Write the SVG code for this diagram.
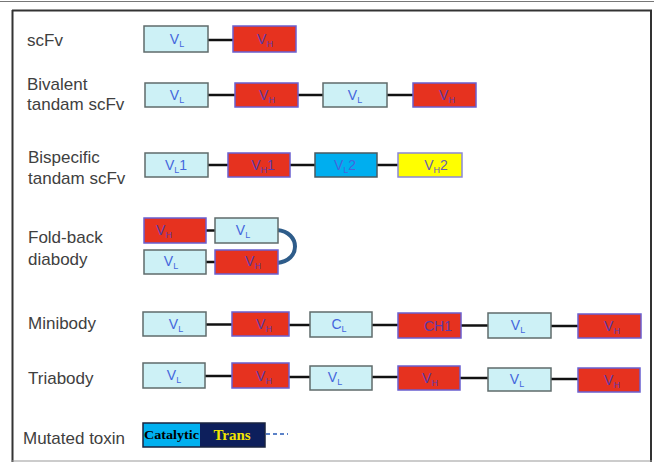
<svg xmlns="http://www.w3.org/2000/svg" width="654" height="462" viewBox="0 0 654 462">
<style>
.lt{fill:#cdf1f6;stroke:#5f6b6b;stroke-width:1.5}
.rd{fill:#e6321f;stroke:#6a5fd0;stroke-width:1.5}
.bl{fill:#00aeef;stroke:#4a5a60;stroke-width:1.5}
.yl{fill:#ffff00;stroke:#8a88d8;stroke-width:1.5}
.lbl{font-family:"Liberation Sans",Arial,sans-serif;font-size:17px;fill:#404040}
.bt{font-family:"Liberation Sans",Arial,sans-serif;font-size:14px;text-anchor:middle}
.tl{fill:#4466dd}
.th{fill:#5b3aa8}
.con line{stroke:#111;stroke-width:2.5}
.sub{font-size:9px}
</style>
<rect width="654" height="462" fill="#fff"/>
<g id="frame" fill="none">
<line x1="0" y1="1.5" x2="654" y2="1.5" stroke="#777" stroke-width="1"/>
<line x1="12" y1="10.5" x2="652" y2="10.5" stroke="#333" stroke-width="2"/>
<line x1="12.5" y1="10" x2="12.5" y2="462" stroke="#333" stroke-width="2"/>
<line x1="651" y1="10" x2="651" y2="462" stroke="#333" stroke-width="2"/>
<line x1="12" y1="461" x2="652" y2="461" stroke="#999" stroke-width="1"/>
</g>
<g id="labels" class="lbl">
<text x="27" y="46">scFv</text>
<text x="27" y="90">Bivalent</text>
<text x="27" y="110">tandam scFv</text>
<text x="28" y="163">Bispecific</text>
<text x="28" y="184">tandam scFv</text>
<text x="28" y="243">Fold-back</text>
<text x="28" y="265">diabody</text>
<text x="28" y="329">Minibody</text>
<text x="28" y="384">Triabody</text>
<text x="23" y="444">Mutated toxin</text>
</g>
<g id="connectors" class="con">
<line x1="208" y1="40" x2="233" y2="40"/>
<line x1="208" y1="95" x2="235" y2="95"/>
<line x1="298" y1="95" x2="323" y2="95"/>
<line x1="387" y1="95" x2="413" y2="95"/>
<line x1="208" y1="165" x2="228" y2="165"/>
<line x1="290" y1="165" x2="315" y2="165"/>
<line x1="377" y1="165" x2="398" y2="165"/>
<line x1="206" y1="230.5" x2="215" y2="230.5"/>
<line x1="206" y1="262" x2="215" y2="262"/>
<line x1="206" y1="324.5" x2="232" y2="324.5"/>
<line x1="289" y1="325" x2="310" y2="325"/>
<line x1="372" y1="325" x2="398" y2="325"/>
<line x1="461" y1="325.5" x2="488" y2="325.5"/>
<line x1="551" y1="326" x2="578" y2="326"/>
<line x1="205" y1="376" x2="232" y2="376"/>
<line x1="289" y1="377" x2="310" y2="377"/>
<line x1="372" y1="377" x2="398" y2="377"/>
<line x1="460" y1="378" x2="488" y2="378"/>
<line x1="551" y1="379" x2="578" y2="379"/>
<path d="M277,230 C301,232 301,261 277,263" fill="none" stroke="#2e5c8a" stroke-width="4" stroke-linecap="round"/>
<line x1="266" y1="434" x2="288" y2="434" stroke="#5b82c8" stroke-width="2" stroke-dasharray="4 3" style="stroke:#5b82c8;stroke-width:2"/>
</g>
<g id="scfv-vl"><rect class="lt" x="144" y="26" width="64" height="26"/><text class="bt tl" x="177" y="44">V<tspan class="sub" dy="3">L</tspan></text></g>
<g id="scfv-vh"><rect class="rd" x="233" y="26" width="63" height="26"/><text class="bt th" x="265" y="44">V<tspan class="sub" dy="3">H</tspan></text></g>
<g id="biv-vl1"><rect class="lt" x="145" y="83" width="63" height="24"/><text class="bt tl" x="177" y="100">V<tspan class="sub" dy="3">L</tspan></text></g>
<g id="biv-vh1"><rect class="rd" x="235" y="83" width="63" height="24"/><text class="bt th" x="267" y="100">V<tspan class="sub" dy="3">H</tspan></text></g>
<g id="biv-vl2"><rect class="lt" x="323" y="83" width="64" height="24"/><text class="bt tl" x="355" y="100">V<tspan class="sub" dy="3">L</tspan></text></g>
<g id="biv-vh2"><rect class="rd" x="413" y="83" width="63" height="24"/><text class="bt th" x="447" y="100">V<tspan class="sub" dy="3">H</tspan></text></g>
<g id="bis-vl1"><rect class="lt" x="145" y="153" width="63" height="24"/><text class="bt tl" x="176" y="170">V<tspan class="sub" dy="3">L</tspan><tspan dy="-3">1</tspan></text></g>
<g id="bis-vh1"><rect class="rd" x="228" y="153" width="62" height="24"/><text class="bt th" x="263" y="170">V<tspan class="sub" dy="3">H</tspan><tspan dy="-3">1</tspan></text></g>
<g id="bis-vl2"><rect class="bl" x="315" y="153" width="62" height="24"/><text class="bt tl" x="345" y="170">V<tspan class="sub" dy="3">L</tspan><tspan dy="-3">2</tspan></text></g>
<g id="bis-vh2"><rect class="yl" x="398" y="153" width="64" height="24"/><text class="bt" fill="#6a5fb0" x="436" y="170">V<tspan class="sub" dy="3">H</tspan><tspan dy="-3">2</tspan></text></g>
<g id="fb-vh-top"><rect class="rd" x="144" y="218" width="62" height="25"/><text class="bt th" x="164" y="235">V<tspan class="sub" dy="3">H</tspan></text></g>
<g id="fb-vl-top"><rect class="lt" x="215" y="218" width="63" height="25"/><text class="bt tl" x="243" y="235">V<tspan class="sub" dy="3">L</tspan></text></g>
<g id="fb-vl-bot"><rect class="lt" x="144" y="250" width="62" height="24"/><text class="bt tl" x="171" y="266">V<tspan class="sub" dy="3">L</tspan></text></g>
<g id="fb-vh-bot"><rect class="rd" x="215" y="250" width="63" height="24"/><text class="bt th" x="253" y="266">V<tspan class="sub" dy="3">H</tspan></text></g>
<g id="mini-vl1"><rect class="lt" x="143" y="312" width="63" height="24"/><text class="bt tl" x="176" y="329">V<tspan class="sub" dy="3">L</tspan></text></g>
<g id="mini-vh1"><rect class="rd" x="232" y="312" width="57" height="24"/><text class="bt th" x="264" y="329">V<tspan class="sub" dy="3">H</tspan></text></g>
<g id="mini-cl"><rect class="lt" x="310" y="312" width="62" height="25"/><text class="bt tl" x="339" y="329">C<tspan class="sub" dy="3">L</tspan></text></g>
<g id="mini-ch1"><rect class="rd" x="398" y="313" width="63" height="25"/><text class="bt th" x="438" y="331">CH1</text></g>
<g id="mini-vl2"><rect class="lt" x="488" y="313" width="63" height="25"/><text class="bt tl" x="518" y="330">V<tspan class="sub" dy="3">L</tspan></text></g>
<g id="mini-vh2"><rect class="rd" x="578" y="314" width="63" height="24"/><text class="bt th" x="612" y="331">V<tspan class="sub" dy="3">H</tspan></text></g>
<g id="tri-vl1"><rect class="lt" x="143" y="363" width="62" height="25"/><text class="bt tl" x="174" y="380">V<tspan class="sub" dy="3">L</tspan></text></g>
<g id="tri-vh1"><rect class="rd" x="232" y="363" width="57" height="25"/><text class="bt th" x="264" y="381">V<tspan class="sub" dy="3">H</tspan></text></g>
<g id="tri-vl2"><rect class="lt" x="310" y="366" width="62" height="24"/><text class="bt tl" x="335" y="382">V<tspan class="sub" dy="3">L</tspan></text></g>
<g id="tri-vh2"><rect class="rd" x="398" y="366" width="62" height="24"/><text class="bt th" x="430" y="383">V<tspan class="sub" dy="3">H</tspan></text></g>
<g id="tri-vl3"><rect class="lt" x="488" y="368" width="63" height="23"/><text class="bt tl" x="517" y="384">V<tspan class="sub" dy="3">L</tspan></text></g>
<g id="tri-vh3"><rect class="rd" x="578" y="368" width="62" height="24"/><text class="bt th" x="612" y="385">V<tspan class="sub" dy="3">H</tspan></text></g>
<g id="toxin">
<rect x="143" y="423" width="57" height="24" fill="#00b0f0"/>
<rect x="200" y="423" width="65" height="24" fill="#0d1f5c"/>
<rect x="143" y="423" width="122" height="24" fill="none" stroke="#1a2540" stroke-width="1.5"/>
<text x="171.5" y="439" font-family="'Liberation Serif','Times New Roman',serif" font-weight="bold" font-size="13" text-anchor="middle" fill="#000" textLength="55" lengthAdjust="spacingAndGlyphs">Catalytic</text>
<text x="232" y="440" font-family="'Liberation Serif','Times New Roman',serif" font-weight="bold" font-size="15" text-anchor="middle" fill="#f2e600">Trans</text>
</g>
</svg>
